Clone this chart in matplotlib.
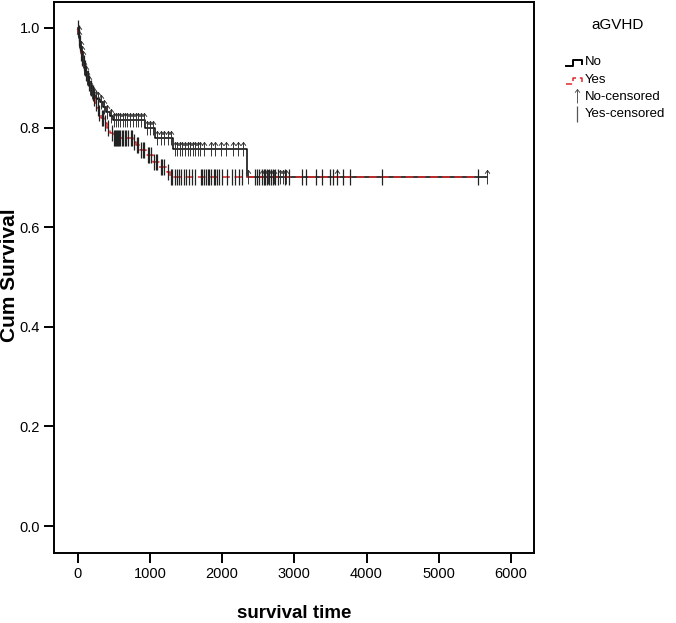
import numpy as np
import matplotlib
matplotlib.use("Agg")
import matplotlib.pyplot as plt
from matplotlib import font_manager
from matplotlib.path import Path
from matplotlib.lines import Line2D


def pick_font(names):
    for name in names:
        try:
            font_manager.findfont(name, fallback_to_default=False)
            return name
        except ValueError:
            pass
    return "DejaVu Sans"


narrow = pick_font(["Liberation Sans Narrow", "Liberation Sans", "Arial"])
plt.rcParams["font.family"] = [narrow, "DejaVu Sans"]

# --- data ---
no_t = [0, 8, 16, 25, 35, 45, 58, 72, 88, 105, 125, 145, 165, 190, 215, 240,
        270, 305, 345, 390, 440, 485, 930, 1070, 1315, 2340]
no_s = [1.0, 0.99, 0.98, 0.97, 0.96, 0.95, 0.94, 0.93, 0.92, 0.91, 0.90, 0.89,
        0.88, 0.872, 0.865, 0.86, 0.857, 0.852, 0.842, 0.832, 0.823, 0.815,
        0.80, 0.78, 0.757, 0.70]
no_end = 5670

yes_t = [0, 8, 16, 25, 35, 45, 58, 72, 88, 105, 125, 145, 165, 190, 215, 240,
         265, 290, 320, 360, 400, 450, 485, 760, 800, 860, 950, 1040, 1130,
         1230, 1275]
yes_s = [1.0, 0.99, 0.98, 0.97, 0.96, 0.95, 0.94, 0.93, 0.92, 0.91, 0.90, 0.89,
         0.88, 0.87, 0.86, 0.85, 0.84, 0.83, 0.82, 0.81, 0.80, 0.79, 0.78,
         0.77, 0.765, 0.755, 0.745, 0.73, 0.72, 0.71, 0.70]
yes_end = 5540

no_cens = [10, 20, 40, 55, 70, 90, 110, 130, 150, 175, 200, 225, 255, 280, 320,
           360, 410, 460, 500, 530, 560, 590, 620, 650, 680, 720, 760, 800, 840,
           880, 910, 960, 1000, 1040, 1100, 1150, 1200, 1250, 1290, 1340, 1380,
           1410, 1450, 1480, 1520, 1550, 1590, 1620, 1660, 1690, 1750, 1850,
           1900, 1990, 2050, 2150, 2220, 2290, 2360, 2550, 2590, 2630, 2680,
           2720, 2800, 2840, 2880, 3590, 5670]
yes_cens = [5, 12, 22, 33, 48, 63, 80, 95, 115, 135, 155, 180, 205, 230, 250,
            275, 300, 330, 350, 380, 420, 470, 495, 510, 525, 540, 555, 570,
            590, 610, 630, 650, 670, 700, 730, 750, 780, 820, 840, 880, 900,
            920, 970, 990, 1010, 1060, 1080, 1100, 1150, 1170, 1200, 1250,
            1290, 1310, 1340, 1370, 1400, 1430, 1470, 1500, 1540, 1580, 1620,
            1700, 1720, 1745, 1770, 1800, 1820, 1850, 1880, 1900, 1930, 1960,
            2000, 2060, 2130, 2180, 2230, 2280, 2450, 2480, 2510, 2550, 2580,
            2600, 2620, 2650, 2680, 2700, 2730, 2770, 2870, 2920, 3100, 3160,
            3300, 3380, 3490, 3530, 3590, 3670, 3770, 4210, 5540]

x_ticks = [0, 1000, 2000, 3000, 4000, 5000, 6000]
y_ticks = [0.0, 0.2, 0.4, 0.6, 0.8, 1.0]


def surv_at(t, s, c):
    idx = np.searchsorted(np.array(t), np.array(c), side="right") - 1
    return np.array(s)[idx]


red = "#e02828"
arrow = Path([(0, -1), (0, 1), (-0.35, 0.55), (0, 1), (0.35, 0.55)],
             [Path.MOVETO, Path.LINETO, Path.MOVETO, Path.LINETO, Path.LINETO])

fig = plt.figure(figsize=(6.76, 6.23), dpi=100)
ax = fig.add_axes([54 / 676, 1 - 553 / 623, 480 / 676, 551 / 623])

ax.step(no_t + [no_end], no_s + [no_s[-1]], where="post", color="black", lw=1.1, zorder=3)
ax.step(yes_t + [yes_end], yes_s + [yes_s[-1]], where="post", color=red, lw=1.1,
        linestyle=(0, (5, 3)), zorder=4)

ax.plot(no_cens, surv_at(no_t, no_s, no_cens), linestyle="none", marker=arrow,
        ms=10, mfc="none", mec="#333333", mew=0.7, zorder=5)
ax.plot(yes_cens, surv_at(yes_t, yes_s, yes_cens), linestyle="none", marker="|",
        ms=12, mec="#222222", mew=0.9, zorder=5)

ax.set_xlim(-330, 6320)
ax.set_ylim(-0.054, 1.052)
ax.set_xticks(x_ticks)
ax.set_yticks(y_ticks)
ax.set_yticklabels([f"{v:.1f}" for v in y_ticks])
ax.tick_params(direction="out", length=7, width=1.4, labelsize=10.5, pad=3)
for sp in ax.spines.values():
    sp.set_linewidth(1.4)

ax.set_xlabel("survival time", fontsize=13.5, fontweight="bold", labelpad=17)


# legend and y label placed in pixel space
def px(x, y):
    return x / 676, 1 - y / 623


fig.text(*px(10, 275), "Cum Survival", fontsize=15, fontweight="bold",
         rotation=90, ha="center", va="center")

fig.text(*px(618, 25), "aGVHD", fontsize=11, ha="center", va="center")
fig.add_artist(Line2D([566 / 676, 573 / 676, 573 / 676, 582 / 676, 582 / 676],
                      [1 - 66 / 623, 1 - 66 / 623, 1 - 60 / 623, 1 - 60 / 623, 1 - 64 / 623],
                      color="black", lw=1.4))
fig.add_artist(Line2D([566 / 676, 573 / 676, 573 / 676, 582 / 676, 582 / 676],
                      [1 - 84 / 623, 1 - 84 / 623, 1 - 78 / 623, 1 - 78 / 623, 1 - 82 / 623],
                      color=red, lw=1.1, linestyle=(0, (4, 2.5))))
fig.add_artist(Line2D([577 / 676], [1 - 96 / 623], marker=arrow, ms=10, mfc="none",
                      mec="#555555", mew=0.7, linestyle="none"))
fig.add_artist(Line2D([577 / 676], [1 - 114 / 623], marker="|", ms=11,
                      mec="#555555", mew=0.9, linestyle="none"))
for label, yy in [("No", 62), ("Yes", 80), ("No-censored", 97), ("Yes-censored", 114)]:
    fig.text(*px(585, yy), label, fontsize=9.5, ha="left", va="center")

fig.savefig("out.png", dpi=100)
